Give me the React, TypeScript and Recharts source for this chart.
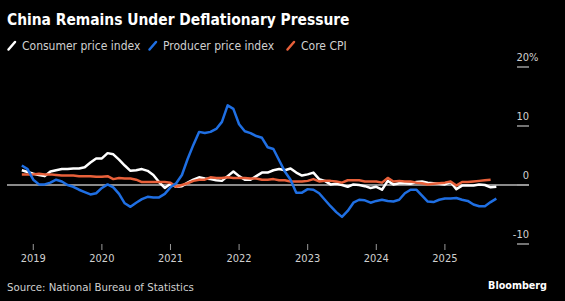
import React from "react";
import { LineChart, Line, XAxis, YAxis, ReferenceLine } from "recharts";

// Monthly YoY %, Oct 2018 .. Sep 2025 (point plotted at month end)
const startYear = 2018;
const startMonth = 10; // October

const cpi = [
  2.5, 2.2, 1.9,
  1.7, 1.5, 2.3, 2.5, 2.7, 2.7, 2.8, 2.8, 3.0, 3.8, 4.5, 4.5,
  5.4, 5.2, 4.3, 3.3, 2.4, 2.5, 2.7, 2.4, 1.7, 0.5, -0.5, 0.2,
  -0.3, -0.2, 0.4, 0.9, 1.3, 1.1, 1.0, 0.8, 0.7, 1.5, 2.3, 1.5,
  0.9, 0.9, 1.5, 2.1, 2.1, 2.5, 2.7, 2.5, 2.8, 2.1, 1.6, 1.8,
  2.1, 1.0, 0.7, 0.1, 0.2, 0.0, -0.3, 0.1, 0.0, -0.2, -0.5, -0.3,
  -0.8, 0.7, 0.1, 0.3, 0.3, 0.2, 0.5, 0.6, 0.4, 0.3, 0.2, 0.1,
  0.5, -0.7, -0.1, -0.1, -0.1, 0.1, 0.0, -0.4, -0.3,
];

const ppi = [
  3.3, 2.7, 0.9,
  0.1, 0.1, 0.4, 0.9, 0.6, 0.0, -0.3, -0.8, -1.2, -1.6, -1.4, -0.5,
  0.1, -0.4, -1.5, -3.1, -3.7, -3.0, -2.4, -2.0, -2.1, -2.1, -1.5, -0.4,
  0.3, 1.7, 4.4, 6.8, 9.0, 8.8, 9.0, 9.5, 10.7, 13.5, 12.9, 10.3,
  9.1, 8.8, 8.3, 8.0, 6.4, 6.1, 4.2, 2.3, 0.9, -1.3, -1.3, -0.7,
  -0.8, -1.4, -2.5, -3.6, -4.6, -5.4, -4.4, -3.0, -2.5, -2.6, -3.0, -2.7,
  -2.5, -2.7, -2.8, -2.5, -1.4, -0.8, -0.8, -1.8, -2.8, -2.9, -2.5, -2.3,
  -2.3, -2.2, -2.5, -2.7, -3.3, -3.6, -3.6, -2.9, -2.3,
];

const coreCpi: (number | null)[] = [
  1.8, 1.8, 1.8,
  1.9, 1.8, 1.8, 1.7, 1.6, 1.6, 1.6, 1.5, 1.5, 1.5, 1.4, 1.4,
  1.5, 1.0, 1.2, 1.1, 1.1, 0.9, 0.5, 0.5, 0.5, 0.5, 0.5, 0.4,
  -0.3, 0.0, 0.3, 0.7, 0.9, 0.9, 1.3, 1.2, 1.2, 1.3, 1.2, 1.2,
  1.2, 1.1, 1.1, 0.9, 0.9, 1.0, 0.8, 0.8, 0.6, 0.6, 0.6, 0.7,
  1.0, 0.6, 0.7, 0.7, 0.6, 0.4, 0.8, 0.8, 0.8, 0.6, 0.6, 0.6,
  0.4, 1.2, 0.6, 0.7, 0.6, 0.6, 0.4, 0.3, 0.1, 0.2, 0.3, 0.4,
  0.6, -0.1, 0.5, 0.5, 0.6, 0.7, 0.8, 0.9, null,
];

const yearTicks = [2019, 2020, 2021, 2022, 2023, 2024, 2025];
const valueTicks = [-10, 0, 10, 20];

const data = cpi.map((v, i) => ({
  x: startYear + (startMonth + i) / 12,
  cpi: v,
  ppi: ppi[i],
  core: coreCpi[i],
}));

const FONT = "'DejaVu Sans Condensed', 'DejaVu Sans', sans-serif";
const WHITE = "#ffffff";
const BLUE = "#1f6fe3";
const ORANGE = "#e8603a";
const TEXT = "#d0d0d0";

const YTick = (props: any) => {
  const { x, y, payload } = props;
  const v = payload.value;
  return (
    <g>
      <line x1={x - 12} x2={x} y1={y} y2={y} stroke="#9a9a9a" strokeWidth={1.5} />
      <text x={x} y={y - 6} textAnchor="end" fill={TEXT} fontSize={11} fontFamily={FONT} style={{ fontStretch: "condensed" }}>
        {String(v)}
      </text>
      {v === 20 ? (
        <text x={x} y={y - 6} textAnchor="start" fill={TEXT} fontSize={11} fontFamily={FONT} style={{ fontStretch: "condensed" }}>
          %
        </text>
      ) : null}
    </g>
  );
};

const XTick = (props: any) => {
  const { x, y, payload } = props;
  return (
    <text x={x} y={y} dy={10} textAnchor="middle" fill={TEXT} fontSize={11} fontFamily={FONT} style={{ fontStretch: "condensed" }}>
      {payload.value}
    </text>
  );
};

const legendItems = [
  { label: "Consumer price index", color: WHITE, x: 7 },
  { label: "Producer price index", color: BLUE, x: 148 },
  { label: "Core CPI", color: ORANGE, x: 286 },
];

export default function App() {
  return (
    <div style={{ position: "absolute", left: 0, top: 0, width: 565, height: 301, background: "#000", overflow: "hidden" }}>
      <LineChart
        width={565}
        height={301}
        data={data}
        margin={{ top: 67, right: 0, bottom: 27, left: 7 }}
      >
        <XAxis
          dataKey="x"
          type="number"
          domain={[2018.617, 2026.226]}
          ticks={yearTicks}
          allowDataOverflow
          axisLine={false}
          tickLine={{ stroke: "#9a9a9a", strokeWidth: 1 }}
          tickSize={6}
          tickMargin={2}
          height={30}
          tick={<XTick />}
        />
        <YAxis
          orientation="right"
          type="number"
          domain={[-10, 20]}
          ticks={valueTicks}
          allowDataOverflow
          axisLine={false}
          tickLine={false}
          tickSize={0}
          tickMargin={0}
          width={36}
          tick={<YTick />}
        />
        <ReferenceLine y={0} stroke="#8a8a8a" strokeWidth={2} />
        <Line dataKey="cpi" stroke={WHITE} strokeWidth={2.5} dot={false} isAnimationActive={false} strokeLinejoin="round" />
        <Line dataKey="core" stroke={ORANGE} strokeWidth={2.5} dot={false} isAnimationActive={false} strokeLinejoin="round" />
        <Line dataKey="ppi" stroke={BLUE} strokeWidth={2.5} dot={false} isAnimationActive={false} strokeLinejoin="round" />
      </LineChart>
      <svg width={565} height={301} style={{ position: "absolute", left: 0, top: 0, pointerEvents: "none" }}>
        <text x={7} y={25} fill="#ffffff" fontSize={15.4} fontWeight="bold" fontFamily={FONT} style={{ fontStretch: "condensed" }}>
          China Remains Under Deflationary Pressure
        </text>
        {legendItems.map((it) => (
          <g key={it.label}>
            <line x1={it.x + 1.5} y1={49.5} x2={it.x + 8} y2={42} stroke={it.color} strokeWidth={2.5} strokeLinecap="round" />
            <text x={it.x + 15} y={50} fill={TEXT} fontSize={12} fontFamily={FONT} style={{ fontStretch: "condensed" }}>
              {it.label}
            </text>
          </g>
        ))}
        <text x={7} y={291} fill={TEXT} fontSize={11.35} fontFamily={FONT} style={{ fontStretch: "condensed" }}>
          Source: National Bureau of Statistics
        </text>
        <text x={547} y={289} textAnchor="end" fill="#ffffff" fontSize={10.7} fontWeight="bold" fontFamily={FONT} style={{ fontStretch: "condensed" }}>
          Bloomberg
        </text>
      </svg>
    </div>
  );
}
